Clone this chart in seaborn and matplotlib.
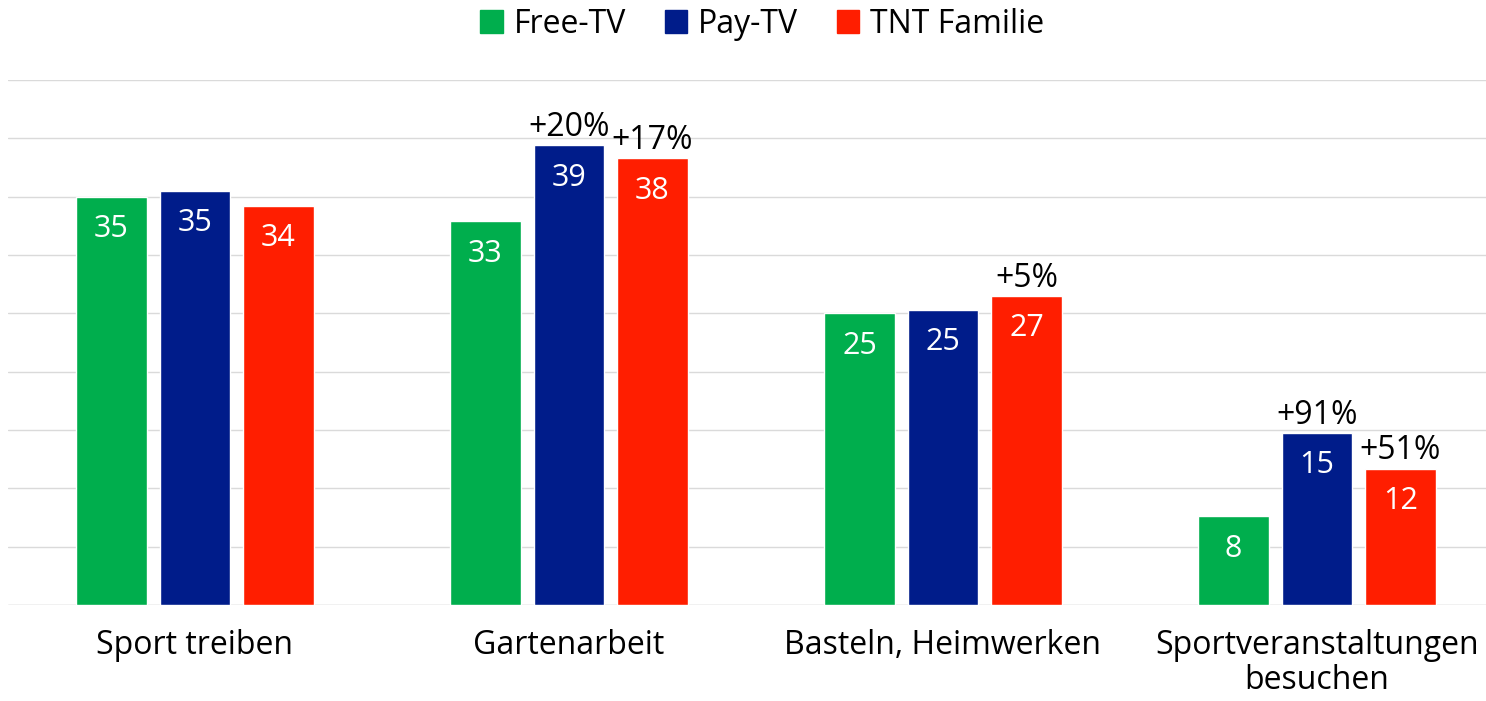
import pandas as pd
import numpy as np
import matplotlib.pyplot as plt
import seaborn as sns

# Data
categories = ["Sport treiben", "Gartenarbeit", "Basteln, Heimwerken", "Sportveranstaltungen\nbesuchen"]
groups = ["Free-TV", "Pay-TV", "TNT Familie"]
free_tv = [35.0, 32.9, 25.0, 7.6]
pay_tv = [35.5, 39.4, 25.3, 14.75]
tnt = [34.2, 38.3, 26.5, 11.7]
free_lbl = ["35", "33", "25", "8"]
pay_lbl = ["35", "39", "25", "15"]
tnt_lbl = ["34", "38", "27", "12"]
pay_delta = ["", "+20%", "", "+91%"]
tnt_delta = ["", "+17%", "+5%", "+51%"]
colors = ["#00AE4D", "#001C8A", "#FF1E00"]

df = pd.DataFrame({
    "Kategorie": categories * 3,
    "Gruppe": [g for g in groups for _ in categories],
    "Wert": free_tv + pay_tv + tnt,
})

sns.set_style("white")
plt.rcParams['font.family'] = ['Open Sans', 'DejaVu Sans']
plt.rcParams['text.color'] = 'black'
plt.rcParams['xtick.color'] = 'black'

fig = plt.figure(figsize=(14.86, 7.01), dpi=100)
ax = fig.add_axes([8 / 1486, 1 - 605 / 701, 1 - 8 / 1486, 525 / 701])

sns.barplot(data=df, x="Kategorie", y="Wert", hue="Gruppe", palette=colors,
            saturation=1, width=0.67, gap=0.16, ax=ax, legend=False, zorder=3)

ax.set_ylim(0, 45)
ax.set_xlim(-0.5, 3.452)
ax.set_yticks(np.arange(0, 46, 5))
ax.yaxis.grid(True, color="#DADADA", linewidth=1, zorder=0)
ax.set_yticklabels([])
ax.tick_params(axis="y", length=0)
ax.tick_params(axis="x", length=0, labelsize=23, pad=17, labelcolor="black")
ax.set_xlabel("")
ax.set_ylabel("")
sns.despine(ax=ax, left=True, bottom=True, top=True, right=True)
ax.axhline(0, color="#DADADA", linewidth=1, zorder=1)
for lbl in ax.get_xticklabels():
    lbl.set_linespacing(1.1)

labels = [free_lbl, pay_lbl, tnt_lbl]
deltas = [[""] * 4, pay_delta, tnt_delta]
for cont, lab, delta in zip(ax.containers, labels, deltas):
    for bar, t, d in zip(cont, lab, delta):
        x = bar.get_x() + bar.get_width() / 2
        h = bar.get_height()
        ax.text(x, h - 1.5, t, ha="center", va="top", color="white", fontsize=22, zorder=4)
        if d:
            ax.text(x, h + 0.1, d, ha="center", va="bottom", color="black", fontsize=23, zorder=4)

handles = [plt.Rectangle((0, 0), 1, 1, color=c) for c in colors]
fig.legend(handles, groups, loc="upper center", bbox_to_anchor=(0.513, 1.03), ncol=3,
           frameon=False, fontsize=23, handlelength=0.7, handleheight=0.7,
           handletextpad=0.35, columnspacing=1.2, labelcolor="black")

fig.savefig("out.png", dpi=100)
